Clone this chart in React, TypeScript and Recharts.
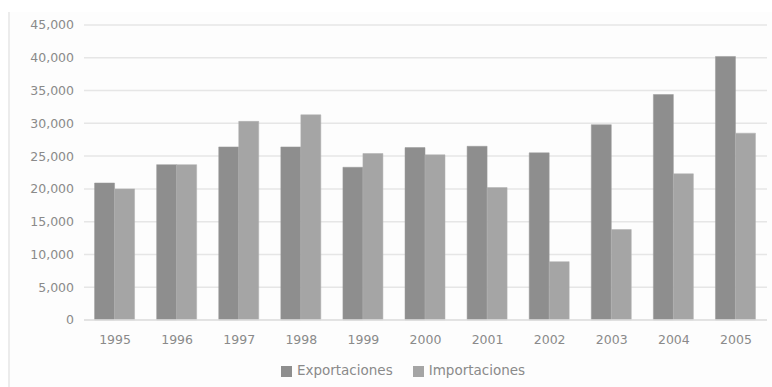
import { BarChart, Bar, XAxis, YAxis, CartesianGrid, Legend } from "recharts";

const years = ["1995", "1996", "1997", "1998", "1999", "2000", "2001", "2002", "2003", "2004", "2005"];
const exportaciones = [20900, 23700, 26400, 26400, 23300, 26300, 26500, 25500, 29800, 34400, 40200];
const importaciones = [20000, 23700, 30300, 31300, 25400, 25200, 20200, 8900, 13800, 22300, 28500];
const yTicks = [0, 5000, 10000, 15000, 20000, 25000, 30000, 35000, 40000, 45000];

const data = years.map((year, i) => ({
  year,
  Exportaciones: exportaciones[i],
  Importaciones: importaciones[i],
}));

const font = "'DejaVu Sans', sans-serif";
const textColor = "#8a8a8a";

export default function App() {
  return (
    <div
      style={{
        position: "absolute",
        left: 0,
        top: 0,
        width: 772,
        height: 387,
        background: "#ffffff",
        fontFamily: font,
      }}
    >
      <div
        style={{
          position: "absolute",
          left: 8,
          top: 12,
          width: 764,
          height: 375,
          background: "#fdfdfd",
          borderLeft: "2px solid #ececec",
        }}
      />
      <div style={{ position: "absolute", left: 0, top: 0 }}>
        <BarChart
          width={772}
          height={387}
          data={data}
          margin={{ top: 25, right: 5, bottom: 21, left: 0 }}
          barCategoryGap="17%"
          barGap={0}
        >
          <CartesianGrid vertical={false} stroke="#e6e6e6" strokeWidth={1.5} />
          <XAxis
            dataKey="year"
            tickLine={false}
            axisLine={{ stroke: "#e0e0e0", strokeWidth: 1.5 }}
            tickMargin={9}
            tick={{ fill: textColor, fontSize: 12.5, fontFamily: font }}
          />
          <YAxis
            width={84}
            domain={[0, 45000]}
            ticks={yTicks}
            tickLine={false}
            axisLine={false}
            tickMargin={4}
            tickFormatter={(v: number) => v.toLocaleString("en-US")}
            tick={{ fill: textColor, fontSize: 12.5, fontFamily: font }}
          />
          <Legend
            iconType="square"
            iconSize={11}
            wrapperStyle={{ left: 27, width: 772, top: 362, fontSize: 13.5, fontFamily: font }}
            formatter={(value: string) => (
              <span style={{ color: textColor, marginLeft: 1, marginRight: 10 }}>{value}</span>
            )}
          />
          <Bar dataKey="Exportaciones" fill="#8e8e8e" stroke="#9a9a9a" strokeWidth={0.5} isAnimationActive={false} />
          <Bar dataKey="Importaciones" fill="#a5a5a5" stroke="#b0b0b0" strokeWidth={0.5} isAnimationActive={false} />
        </BarChart>
      </div>
    </div>
  );
}
